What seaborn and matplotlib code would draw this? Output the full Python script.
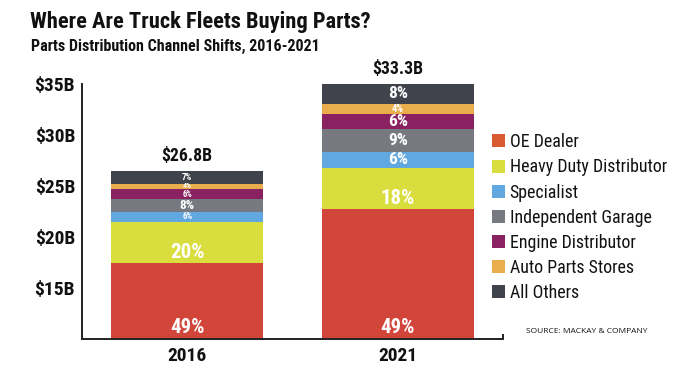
import re
import matplotlib
matplotlib.use("Agg")
import matplotlib.pyplot as plt
from matplotlib import font_manager
from matplotlib.font_manager import FontProperties
from matplotlib.patches import Patch
import numpy as np
import seaborn as sns

# ---------------- data ----------------
years = ["2016", "2021"]
channels = ["OE Dealer", "Heavy Duty Distributor", "Specialist", "Independent Garage",
            "Engine Distributor", "Auto Parts Stores", "All Others"]
# segment heights in $B as drawn on the chart's axis (OE drawn from 0, axis starts at $10B)
oe_dealer = [17.4, 22.7]
heavy_duty = [4.1, 4.1]
specialist = [0.9, 1.5]
independent = [1.35, 2.25]
engine = [0.9, 1.5]
auto_parts = [0.55, 1.0]
all_others = [1.3, 2.05]
pct_2016 = ["49%", "20%", "6%", "8%", "6%", "4%", "7%"]
pct_2021 = ["49%", "18%", "6%", "9%", "6%", "4%", "8%"]
totals = ["$26.8B", "$33.3B"]
yticks = [15, 20, 25, 30, 35]
ytick_labels = ["$15B", "$20B", "$25B", "$30B", "$35B"]
colors = ["#d2453a", "#d9de3e", "#62a8e0", "#767a80", "#8a2160", "#e9ad4c", "#40434c"]
legend_colors = ["#d85a30", "#d9de3e", "#62a8e0", "#767a80", "#8a2160", "#e9ad4c", "#40434c"]

# ---------------- fonts ----------------
files = [f.fname for f in font_manager.fontManager.ttflist]


def find_font(patterns):
    for p in patterns:
        for fn in files:
            base = fn.split("/")[-1]
            if re.fullmatch(p, base, flags=re.I):
                return fn
    return None


bold_file = find_font([r"RobotoCondensed-Bold\.ttf", r"DejaVuSansCondensed-Bold\.ttf",
                       r"LiberationSansNarrow-Bold\.ttf", r"OpenSans[_-]?Condensed-Bold\.ttf",
                       r".*(Condensed|Narrow).*Bold\.ttf"])
reg_file = find_font([r"RobotoCondensed-Regular\.ttf", r"DejaVuSansCondensed\.ttf",
                      r"LiberationSansNarrow-Regular\.ttf", r"OpenSans[_-]?Condensed-(Regular|Light)\.ttf",
                      r".*(Condensed|Narrow).*(Regular)?\.ttf"])
condensed = bold_file is not None
K = 1.0 if condensed else 0.84


def fp(size, bold=True):
    f = bold_file if bold else reg_file
    if f is not None:
        return FontProperties(fname=f, size=size)
    return FontProperties(family="DejaVu Sans", weight="bold" if bold else "normal", size=size)


sns.set_theme(style="white")
plt.rcParams["font.family"] = ["DejaVu Sans"]

fig = plt.figure(figsize=(6.84, 3.71), dpi=100)
ax = fig.add_axes([82 / 684, 1 - 338.7 / 371, (503 - 82) / 684, (338.7 - 84) / 371])

segments = [oe_dealer, heavy_duty, specialist, independent, engine, auto_parts, all_others]
cum = np.cumsum(np.array(segments), axis=0)  # tops of each segment

# draw from top layer down so lower layers cover
for i in range(len(channels) - 1, -1, -1):
    sns.barplot(x=years, y=cum[i], color=colors[i], width=0.72, saturation=1,
                edgecolor="none", linewidth=0, ax=ax)

ax.set_xlim(-0.5, 1.5)
ax.set_ylim(10, 35)

# percentage labels
pct = [pct_2016, pct_2021]
sizes = [
    [15, 15, 6.4, 9.5, 6.2, 5.6, 6.6],
    [15, 15, 12.5, 12.5, 12.5, 7.5, 12.5],
]
nudge = [
    [0, 0, 0, 0, -0.06, 0.08, 0],
    [0, 0, 0, 0, 0, 0, 0],
]
for b in range(2):
    for i in range(len(channels)):
        bottom = cum[i - 1][b] if i > 0 else 10
        top = cum[i][b]
        if i == 0:
            y = 11.1
        elif i == 1:
            y = bottom + 0.27 * (top - bottom)
        else:
            y = (bottom + top) / 2 + nudge[b][i]
        ax.text(b, y, pct[b][i], ha="center", va="center", color="white",
                fontproperties=fp(sizes[b][i] * K))
    ax.text(b, cum[-1][b] + 1.4, totals[b], ha="center", va="center",
            fontproperties=fp(12.8 * K), color="#111111")

ax.set_yticks(yticks)
ax.set_yticklabels(ytick_labels, color="#111111")
ax.set_xticks([0, 1])
ax.set_xticklabels(years, color="#111111")
for lab in ax.get_yticklabels() + ax.get_xticklabels():
    lab.set_fontproperties(fp(14 * K))
ax.tick_params(axis="y", direction="in", length=7, width=1.4, color="#222222", pad=5)
ax.tick_params(axis="x", length=0, pad=6)
ax.set_xlabel("")
ax.set_ylabel("")
for s in ["top", "right"]:
    ax.spines[s].set_visible(False)
for s in ["left", "bottom"]:
    ax.spines[s].set_color("#222222")
    ax.spines[s].set_linewidth(1.4)
ax.plot([1, 1], [0, 0.02], transform=ax.transAxes, color="#222222", lw=1.4,
        clip_on=False, solid_capstyle="butt")

# legend
handles = [Patch(facecolor=c, edgecolor="none") for c in legend_colors]
leg_size = 12.9 * (1.0 if condensed else 0.78)
fig.legend(handles, channels, loc="upper left", bbox_to_anchor=(492 / 684, 1 - 133.2 / 371),
           frameon=False, prop=fp(leg_size, bold=False), handlelength=0.74 * 12.9 / leg_size,
           handleheight=0.74 * 12.9 / leg_size,
           handletextpad=0.25, labelspacing=0.40 * 12.9 / leg_size,
           borderpad=0, borderaxespad=0, labelcolor="#111111")

fig.text(30 / 684, 1 - 28.3 / 371, "Where Are Truck Fleets Buying Parts?",
         fontproperties=fp(16.2 if condensed else 14.0), ha="left", va="baseline", color="#111111")
fig.text(31 / 684, 1 - 50.5 / 371, "Parts Distribution Channel Shifts, 2016-2021",
         fontproperties=fp(11.5 if condensed else 9.3), ha="left", va="baseline", color="#111111")
fig.text(587 / 684, 1 - 331.7 / 371, "SOURCE: MACKAY & COMPANY", fontsize=6.0,
         ha="center", va="center", color="#111111", family=["Open Sans", "DejaVu Sans"])

fig.savefig("out.png", dpi=100)
